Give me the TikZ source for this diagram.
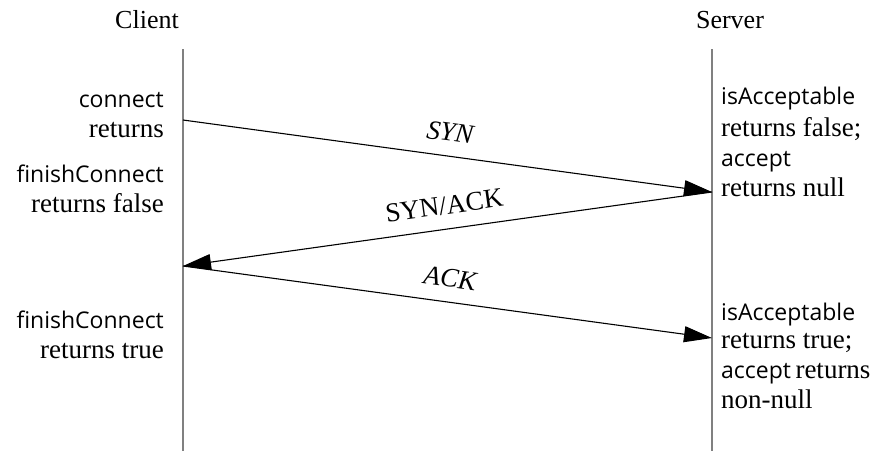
\documentclass[tikz,border=0pt]{standalone}
\usepackage{fontspec}
\setmainfont{Liberation Serif}
\setsansfont{Open Sans}
\usetikzlibrary{arrows.meta}
\tikzset{
  lifeline/.style={draw=black!50, line width=1.4pt},
  msg/.style={draw=black, line width=1.1pt, -{Triangle[length=28pt,width=16pt]}},
  actor/.style={font=\fontsize{26}{30}\selectfont, inner sep=0pt},
  note/.style={font=\fontsize{27}{30}\selectfont, inner sep=0pt},
  sans/.style={font=\fontsize{23}{30}\selectfont\sffamily, inner sep=0pt},
  msglabel/.style={font=\fontsize{27}{30}\selectfont, inner sep=0pt, sloped, above=14pt},
}
\newcommand{\sfpart}[1]{{\fontsize{23}{30}\selectfont\sffamily #1}}
\begin{document}
\begin{tikzpicture}[x=1pt,y=-1pt]
\useasboundingbox (0,0) rectangle (880,451);
% actors
\node[actor] (client) at (147,20) {Client};
\node[actor] (server) at (730,20) {Server};
% lifelines
\coordinate (ctop) at (183,49);
\coordinate (cbot) at (183,451);
\coordinate (stop) at (712,49);
\coordinate (sbot) at (712,451);
\draw[lifeline] (ctop) -- (cbot);
\draw[lifeline] (stop) -- (sbot);
% message points
\coordinate (c1) at (183,120);
\coordinate (s1) at (712,192);
\coordinate (c2) at (183,266);
\coordinate (s2) at (712,338);
\draw[msg] (c1) -- node[msglabel] (syn) {\textit{SYN}} (s1);
\draw[msg] (s1) -- node[msglabel] (synack) {SYN/ACK} (c2);
\draw[msg] (c2) -- node[msglabel] (ack) {\textit{ACK}} (s2);
% client notes
\node[sans, anchor=base east] (n1a) at (164,107) {connect};
\node[note, anchor=base east] (n1b) at (164,137) {returns};
\node[sans, anchor=base east] (n2a) at (164,182) {finishConnect};
\node[note, anchor=base east] (n2b) at (164,212) {returns false};
\node[sans, anchor=base east] (n3a) at (164,328) {finishConnect};
\node[note, anchor=base east] (n3b) at (164,358) {returns true};
% server notes
\node[sans, anchor=base west] (m1a) at (721,104) {isAcceptable};
\node[note, anchor=base west] (m1b) at (721,136) {returns false;};
\node[sans, anchor=base west] (m1c) at (721,166) {accept};
\node[note, anchor=base west] (m1d) at (721,196) {returns null};
\node[sans, anchor=base west] (m2a) at (721,320) {isAcceptable};
\node[note, anchor=base west] (m2b) at (721,348) {returns true;};
\node[note, anchor=base west] (m2c) at (721,378) {\sfpart{accept}\,returns};
\node[note, anchor=base west] (m2d) at (721,408) {non-null};
\end{tikzpicture}
\end{document}
